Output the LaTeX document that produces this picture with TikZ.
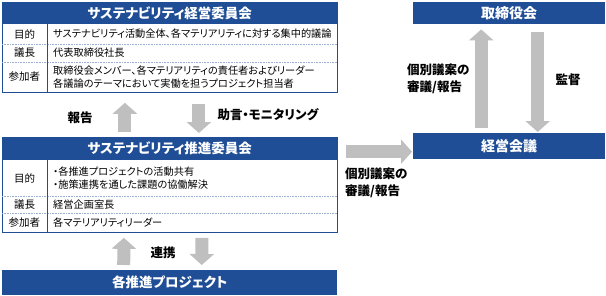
\documentclass[tikz,border=0pt]{standalone}
\usepackage{fontspec}
\setmainfont{Noto Sans CJK JP}[RawFeature=+palt]
\usetikzlibrary{arrows.meta}

\definecolor{sblue}{HTML}{1F4E96}
\definecolor{agray}{HTML}{BFBFBF}

\tikzset{
  titlebar/.style={fill=sblue, text=white, inner sep=0pt,
    font=\bfseries\fontsize{13.5}{15}\selectfont},
  framebox/.style={draw=sblue, line width=0.8pt, inner sep=0pt},
  headcell/.style={inner sep=0pt, font=\fontsize{10.5}{12}\selectfont},
  cell/.style={inner sep=0pt, anchor=west, align=left,
    font=\fontsize{10.2}{13}\selectfont},
  rowline/.style={sblue!45, densely dotted, line width=0.6pt},
  colline/.style={sblue, line width=0.6pt},
  blockarrow/.style={draw=agray, line width=13pt,
    -{Triangle[width=24pt,length=11pt]}},
  armlabel/.style={inner sep=0pt, align=left,
    font=\bfseries\fontsize{12.5}{16.5}\selectfont},
}

\begin{document}
\begin{tikzpicture}[x=1pt, y=-1pt]
  \useasboundingbox (0,0) rectangle (606,295);

  % sustainability management committee
  \node[framebox, minimum width=335pt, minimum height=90pt, anchor=north west] (keieibox) at (2,2) {};
  \node[titlebar, minimum width=335pt, minimum height=22pt, anchor=north west] (keiei) at (2,2) {サステナビリティ経営委員会};
  \draw[rowline] (2,44) -- (337,44);
  \draw[rowline] (2,62) -- (337,62);
  \draw[colline] (47,24) -- (47,92);
  \node[headcell] (k-aim) at (24.5,34) {目的};
  \node[headcell] (k-chair) at (24.5,53) {議長};
  \node[headcell] (k-member) at (24.5,77) {参加者};
  \node[cell] (k-aimtext) at (53,34) {サステナビリティ活動全体、各マテリアリティに対する集中的議論};
  \node[cell] (k-chairtext) at (53,53) {代表取締役社長};
  \node[cell] (k-membertext) at (53,77) {取締役会メンバー、各マテリアリティの責任者およびリーダー\\各議論のテーマにおいて実働を担うプロジェクト担当者};

  % sustainability promotion committee
  \node[framebox, minimum width=335pt, minimum height=95pt, anchor=north west] (suishinbox) at (2,137) {};
  \node[titlebar, minimum width=335pt, minimum height=23pt, anchor=north west] (suishin) at (2,137) {サステナビリティ推進委員会};
  \draw[rowline] (2,196) -- (337,196);
  \draw[rowline] (2,213) -- (337,213);
  \draw[colline] (47,160) -- (47,232);
  \node[headcell] (s-aim) at (24.5,178) {目的};
  \node[headcell] (s-chair) at (24.5,204.5) {議長};
  \node[headcell] (s-member) at (24.5,222.5) {参加者};
  \node[cell] (s-aimtext) at (53,178) {・各推進プロジェクトの活動共有\\・施策連携を通した課題の協働解決};
  \node[cell] (s-chairtext) at (53,204.5) {経営企画室長};
  \node[cell] (s-membertext) at (53,222.5) {各マテリアリティリーダー};

  % projects
  \node[titlebar, minimum width=335pt, minimum height=25pt, anchor=north west] (project) at (2,270) {各推進プロジェクト};

  % board and management meeting
  \node[titlebar, minimum width=192pt, minimum height=22pt, anchor=north west,
    font=\bfseries\fontsize{14}{15}\selectfont] (board) at (413,2) {取締役会};
  \node[titlebar, minimum width=192pt, minimum height=26pt, anchor=north west,
    font=\bfseries\fontsize{14}{15}\selectfont] (kaigi) at (413,133) {経営会議};

  % arrows
  \draw[blockarrow, shorten <=5pt, shorten >=10pt] ([xshift=-45pt]suishinbox.north) -- ([xshift=-45pt]keieibox.south);
  \draw[blockarrow, shorten <=11pt, shorten >=4pt] ([xshift=29pt]keieibox.south) -- ([xshift=29pt]suishinbox.north);
  \draw[blockarrow, shorten <=5pt, shorten >=5pt] ([xshift=-46pt]project.north) -- ([xshift=-46pt]suishinbox.south);
  \draw[blockarrow, shorten <=5pt, shorten >=5pt] ([xshift=32pt]suishinbox.south) -- ([xshift=32pt]project.north);
  \draw[blockarrow, shorten <=5pt, shorten >=5pt] ([xshift=-28pt]kaigi.north) -- ([xshift=-28pt]board.south);
  \draw[blockarrow, shorten <=8pt, shorten >=1pt] ([xshift=28.5pt]board.south) -- ([xshift=28.5pt]kaigi.north);
  \coordinate (harrow) at ([yshift=-5.5pt]kaigi.west);
  \draw[blockarrow, shorten <=8pt, shorten >=1pt] (harrow -| suishinbox.east) -- (harrow);

  % arrow labels
  \node[armlabel] (report) at (80,118) {報告};
  \node[armlabel] (advice) at (268,115) {助言・モニタリング};
  \node[armlabel] (renkei) at (163,253) {連携};
  \node[armlabel, anchor=west] (upreport) at (407,79) {個別議案の\\審議/報告};
  \node[armlabel] (kantoku) at (568,80) {監督};
  \node[armlabel, anchor=west] (sidereport) at (345,183) {個別議案の\\審議/報告};
\end{tikzpicture}
\end{document}
